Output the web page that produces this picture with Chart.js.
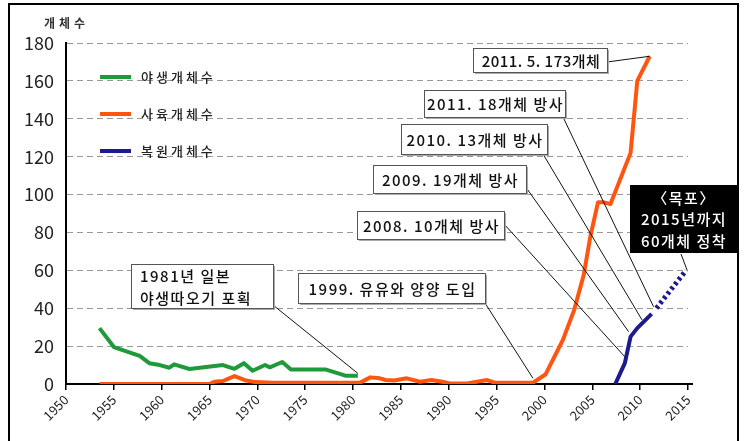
<!DOCTYPE html>
<html>
<head>
<meta charset="utf-8">
<script src="https://cdn.jsdelivr.net/npm/chart.js@4"></script>
<style>
  html, body { margin: 0; padding: 0; background: #fff; }
  #wrap { width: 744px; height: 441px; }
</style>
</head>
<body>
<div id="wrap"><canvas id="ibisChart" width="744" height="441"></canvas></div>
<script>
// values (year, head count)
const wildYears = [1953.5, 1955, 1957.7, 1958.7, 1959.8, 1960.8, 1961.3, 1962.9, 1966.4, 1967.6, 1968.6, 1969.5, 1970.8, 1971.3, 1972.6, 1973.5, 1977.1, 1979.2, 1980.5];
const wildCount = [29.5, 19.5, 14.8, 11, 10, 8.6, 10.4, 7.9, 10, 8, 11, 7, 10, 8.8, 11.6, 7.7, 7.7, 4.4, 4.4];

const captiveYears = [1953.5, 1965, 1965.5, 1966.4, 1967.6, 1968.7, 1969.8, 1971.6, 1980.7, 1981.8, 1982.8, 1983.4, 1984.3, 1985.6, 1987, 1988.2, 1989.3, 1990.1, 1991.9, 1994, 1994.8, 1998.8, 2000.1, 2001.9, 2003.1, 2004.1, 2004.8, 2005.6, 2006.1, 2006.9, 2009, 2009.7, 2011];
const captiveCount = [0, 0, 1.2, 1.6, 4.2, 2, 1, 0.6, 0.6, 3.5, 3, 2.1, 1.8, 3, 1.2, 2.1, 1.2, 0.3, 0.3, 2.1, 0.7, 0.7, 5, 23, 39, 57.5, 78, 96, 96, 95, 122, 160, 173];

const releasedYears = [2007.4, 2008.4, 2009, 2009.7, 2011.2];
const releasedCount = [0, 11, 25, 29.5, 37];

// target up to 2015 (dotted)
const goalYears = [2011.7, 2014.8];
const goalCount = [40, 60];

const seriesNames = ['야생개체수', '사육개체수', '복원개체수'];
const seriesColors = ['#1f9a3a', '#ff5511', '#1b1b8c'];
const yTicks = [0, 20, 40, 60, 80, 100, 120, 140, 160, 180];

const KR = "'Noto Sans CJK KR', 'Noto Sans', sans-serif";

function toPoints(xs, ys) {
    return xs.map((x, i) => ({ x: x, y: ys[i] }));
}

// boxes, leader lines, legend, frame
const annot = {
    id: 'annot',
    afterDraw(chart) {
        const ctx = chart.ctx;
        const sx = chart.scales.x, sy = chart.scales.y;
        const px = v => sx.getPixelForValue(v);
        const py = v => sy.getPixelForValue(v);

        ctx.save();
        // outer frame
        ctx.strokeStyle = '#000';
        ctx.lineWidth = 2;
        ctx.beginPath();
        ctx.moveTo(9, 460); ctx.lineTo(9, 4); ctx.lineTo(738, 4); ctx.lineTo(738, 460);
        ctx.stroke();

        // x axis runs a little past 2015
        ctx.beginPath();
        ctx.moveTo(sx.right, sy.bottom); ctx.lineTo(sx.right + 5, sy.bottom);
        ctx.stroke();

        // y axis title
        ctx.fillStyle = '#333';
        ctx.font = 'bold 12px ' + KR;
        ctx.textAlign = 'left';
        ctx.textBaseline = 'middle';
        ctx.letterSpacing = '4px';
        ctx.fillText('개체수', 44, 23);

        // legend
        seriesNames.forEach((name, i) => {
            const ly = 77 + i * 37;
            ctx.strokeStyle = seriesColors[i];
            ctx.lineWidth = 4;
            ctx.beginPath();
            ctx.moveTo(100, ly); ctx.lineTo(131, ly);
            ctx.stroke();
            ctx.fillStyle = '#222';
            ctx.font = '500 13px ' + KR;
            ctx.letterSpacing = '3px';
            ctx.fillText(name, 141, ly);
        });

        // leader lines
        const leader = (x0, y0, yr, val) => {
            ctx.strokeStyle = '#111';
            ctx.lineWidth = 1;
            ctx.beginPath();
            ctx.moveTo(x0, y0);
            ctx.lineTo(px(yr), py(val));
            ctx.stroke();
        };
        leader(607, 62, 2011, 173);
        leader(563, 117, 2011.4, 40.8);
        leader(543, 154, 2010.2, 33.8);
        leader(525, 186, 2008.8, 27.6);
        leader(504, 224, 2008.4, 14.4);
        leader(485, 303, 1998.8, 3);
        leader(273, 305, 1980.5, 5.6);
        leader(681, 254, 2014.9, 60.2);

        // white label boxes
        const box = (x, y, w, h, lines, align, sp) => {
            ctx.fillStyle = '#aaa';
            ctx.fillRect(x + 2, y + 2, w, h);
            ctx.fillStyle = '#fff';
            ctx.fillRect(x, y, w, h);
            ctx.strokeStyle = '#555';
            ctx.lineWidth = 1;
            ctx.strokeRect(x + 0.5, y + 0.5, w, h);
            ctx.fillStyle = '#111';
            ctx.font = '500 15px ' + KR;
            ctx.letterSpacing = (sp || 1.5) + 'px';
            ctx.textBaseline = 'middle';
            const lh = h / lines.length;
            lines.forEach((t, i) => {
                if (align === 'left') {
                    ctx.textAlign = 'left';
                    ctx.fillText(t, x + 9, y + lh * (i + 0.5) + 1);
                } else {
                    ctx.textAlign = 'center';
                    ctx.fillText(t, x + w / 2 + 1, y + lh * (i + 0.5) + 1);
                }
            });
        };
        box(473, 48, 134, 24, ['2011. 5. 173개체'], 'center', 0.5);
        box(424, 90, 141, 27, ['2011. 18개체 방사']);
        box(401, 124, 146, 30, ['2010. 13개체 방사']);
        box(373, 165, 153, 28, ['2009. 19개체 방사']);
        box(357, 211, 147, 28, ['2008. 10개체 방사']);
        box(298, 273, 187, 30, ['1999. 유유와 양양 도입']);
        box(131, 264, 142, 44, ['1981년 일본', '야생따오기 포획'], 'left');

        // black goal box
        ctx.fillStyle = '#000';
        ctx.fillRect(630, 185, 107, 68);
        ctx.fillStyle = '#fff';
        ctx.font = '500 15px ' + KR;
        ctx.letterSpacing = '1.5px';
        ctx.textAlign = 'center';
        ctx.textBaseline = 'middle';
        ['〈목포〉', '2015년까지', '60개체 정착'].forEach((t, i) => {
            ctx.fillText(t, 684, 198 + i * 21.5);
        });
        ctx.restore();
    }
};

new Chart(document.getElementById('ibisChart'), {
    type: 'line',
    data: {
        datasets: [
            { label: seriesNames[0], data: toPoints(wildYears, wildCount), borderColor: seriesColors[0] },
            { label: seriesNames[1], data: toPoints(captiveYears, captiveCount), borderColor: seriesColors[1] },
            { label: seriesNames[2], data: toPoints(releasedYears, releasedCount), borderColor: seriesColors[2] },
            { label: '목표', data: toPoints(goalYears, goalCount), borderColor: seriesColors[2], borderDash: [3, 3], borderWidth: 5 }
        ]
    },
    options: {
        responsive: false,
        animation: false,
        layout: { padding: { left: 8, right: 56, top: 43, bottom: 0 } },
        elements: {
            point: { radius: 0 },
            line: { borderWidth: 4, tension: 0, borderJoinStyle: 'round' }
        },
        plugins: {
            legend: { display: false },
            tooltip: { enabled: false }
        },
        scales: {
            x: {
                type: 'linear',
                min: 1950,
                max: 2015,
                afterFit: s => { s.height = 57; },
                ticks: {
                    stepSize: 5,
                    minRotation: 45,
                    maxRotation: 45,
                    padding: 2,
                    color: '#222',
                    font: { size: 13, family: KR },
                    callback: v => String(v)
                },
                grid: { drawOnChartArea: false, drawTicks: true, tickLength: 6, color: '#000', lineWidth: 1.5 },
                border: { color: '#000', width: 2 }
            },
            y: {
                min: 0,
                max: 180,
                afterFit: s => { s.width = 58; },
                afterBuildTicks: s => { s.ticks = yTicks.map(v => ({ value: v })); },
                ticks: {
                    padding: 12,
                    color: '#222',
                    font: { size: 18, family: KR }
                },
                grid: { color: '#999', lineWidth: 1, drawTicks: false, tickBorderDash: [6, 4] },
                border: { color: '#000', width: 2, dash: [6, 4] }
            }
        }
    },
    plugins: [annot]
});
</script>
</body>
</html>
